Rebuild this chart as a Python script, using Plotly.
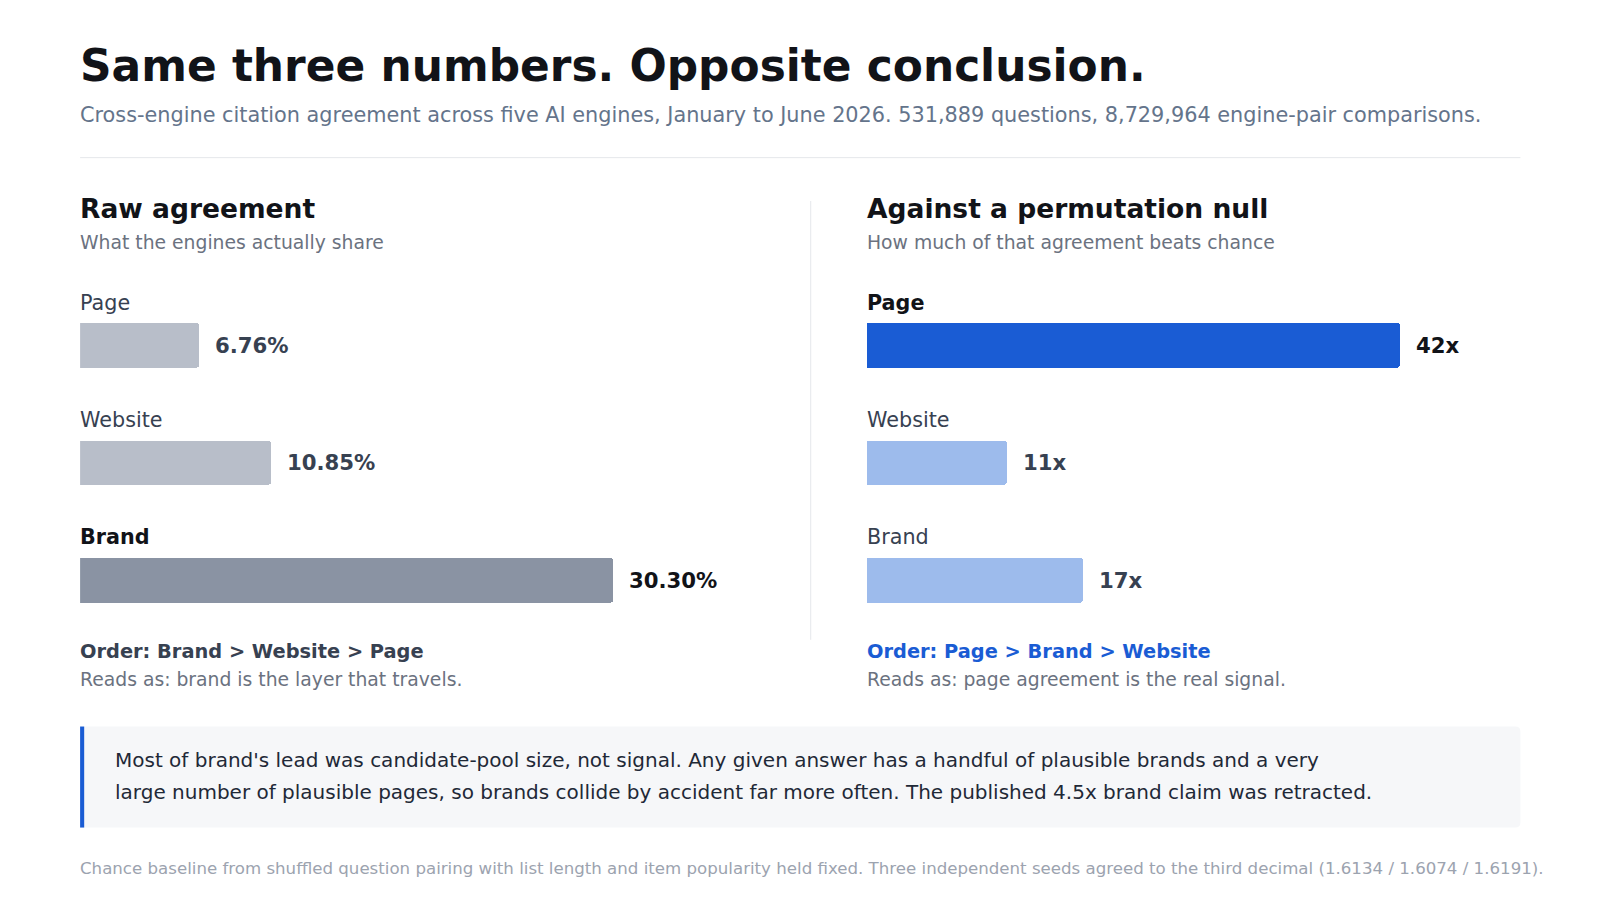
import plotly.graph_objects as go

# ---------------------------------------------------------------------------
# data
# ---------------------------------------------------------------------------
layers = ["Page", "Website", "Brand"]
raw_agreement = [6.76, 10.85, 30.30]          # % of engine pairs sharing
lift_over_null = [42, 11, 17]                 # x over permutation baseline
raw_labels = ["6.76%", "10.85%", "30.30%"]
lift_labels = ["42x", "11x", "17x"]

W, H = 1600, 907
S = 1600 / 1568          # layout was measured on a 1568px-wide preview
FONT = "DejaVu Sans"

INK = "#111318"
SLATE = "#374151"
MUTED = "#6b7280"
BLUE = "#1a5cd4"
LIGHT_BLUE = "#9dbbec"
GREY = "#b8bec9"
DARK_GREY = "#8a93a3"


def px(x):
    return x * S / W


def py(y):
    return 1 - y * S / H


fig = go.Figure()

raw_colors = [DARK_GREY if v == max(raw_agreement) else GREY for v in raw_agreement]
lift_colors = [BLUE if v == max(lift_over_null) else LIGHT_BLUE for v in lift_over_null]
ypos = list(range(len(layers)))

fig.add_trace(go.Bar(
    x=raw_agreement, y=ypos, orientation="h",
    marker=dict(color=raw_colors, cornerradius=3, line=dict(width=0)),
    width=0.383, xaxis="x", yaxis="y", hoverinfo="skip", showlegend=False,
))
fig.add_trace(go.Bar(
    x=lift_over_null, y=ypos, orientation="h",
    marker=dict(color=lift_colors, cornerradius=3, line=dict(width=0)),
    width=0.383, xaxis="x2", yaxis="y2", hoverinfo="skip", showlegend=False,
))

# track: longest bar fills 75% of each panel track
track = 696
left0, right0 = 78.5, 849.5
ax_common = dict(showgrid=False, zeroline=False, showticklabels=False,
                 showline=False, fixedrange=True)
fig.update_layout(
    xaxis=dict(domain=[px(left0), px(left0 + track)],
               range=[0, max(raw_agreement) / 0.75], **ax_common),
    xaxis2=dict(domain=[px(right0), px(right0 + track)],
                range=[0, max(lift_over_null) / 0.75], **ax_common),
    yaxis=dict(domain=[py(626), py(281)], range=[2.5, -0.5], anchor="x",
               **ax_common),
    yaxis2=dict(domain=[py(626), py(281)], range=[2.5, -0.5], anchor="x2",
                **ax_common),
)

ann = []


def text(x, y, s, size, color, bold=False, **kw):
    # annotations carry ~1.5px of padding; pull them back onto the grid line
    ann.append(dict(
        x=px(x - 1.5), y=py(y), xref="paper", yref="paper", text=s,
        showarrow=False, xanchor="left", yanchor="middle",
        font=dict(family=FONT, size=size * S, color=color,
                  weight="bold" if bold else "normal"),
        **kw,
    ))


# header
text(77.5, 64, "Same three numbers. Opposite conclusion.", 43, INK, bold=True)
text(78, 113, "Cross-engine citation agreement across five AI engines, January to "
     "June 2026. 531,889 questions, 8,729,964 engine-pair comparisons.",
     20.4, "#64748b")

# panel headings
text(78, 204, "Raw agreement", 26, INK, bold=True)
text(78, 238, "What the engines actually share", 18.4, MUTED)
text(849, 204, "Against a permutation null", 26, INK, bold=True)
text(849, 238, "How much of that agreement beats chance", 18.4, MUTED)

# bar labels and values
for i, name in enumerate(layers):
    for xa, ya, vals, labs in (("x", "y", raw_agreement, raw_labels),
                               ("x2", "y2", lift_over_null, lift_labels)):
        top = vals[i] == max(vals)
        ann.append(dict(
            x=0, y=i, xref=f"{xa} domain", yref=ya, text=name,
            yshift=42 * S, xshift=-2,
            showarrow=False, xanchor="left", yanchor="middle",
            font=dict(family=FONT, size=20.3 * S, color=INK if top else SLATE,
                      weight="bold" if top else "normal"),
        ))
        ann.append(dict(
            x=vals[i], y=i, xref=xa, yref=ya, text=labs[i], xshift=14 * S,
            showarrow=False, xanchor="left", yanchor="middle",
            font=dict(family=FONT, size=20.8 * S, color=INK if top else SLATE,
                      weight="bold"),
        ))

# order notes
text(78, 638, "Order: Brand > Website > Page", 19, SLATE, bold=True)
text(78, 666, "Reads as: brand is the layer that travels.", 18.4, MUTED)
text(849, 638, "Order: Page > Brand > Website", 19, BLUE, bold=True)
text(849, 666, "Reads as: page agreement is the real signal.", 18.4, MUTED)

# callout
text(112, 745, "Most of brand's lead was candidate-pool size, not signal. Any given "
     "answer has a handful of plausible brands and a very", 19.6, "#1f2937")
text(112, 776, "large number of plausible pages, so brands collide by accident far "
     "more often. The published 4.5x brand claim was retracted.", 19.6, "#1f2937")

# footnote
text(78, 851, "Chance baseline from shuffled question pairing with list length and "
     "item popularity held fixed. Three independent seeds agreed to the third "
     "decimal (1.6134 / 1.6074 / 1.6191).", 16.3, "#9ca3af")

# callout box with rounded right corners (radius in preview px)
bx0, bx1, by0, by1, r = 78.5, 1490, 712, 811, 5
box_path = (
    f"M {px(bx0)},{py(by0)} L {px(bx1 - r)},{py(by0)} "
    f"Q {px(bx1)},{py(by0)} {px(bx1)},{py(by0 + r)} "
    f"L {px(bx1)},{py(by1 - r)} "
    f"Q {px(bx1)},{py(by1)} {px(bx1 - r)},{py(by1)} "
    f"L {px(bx0)},{py(by1)} Z"
)

shapes = [
    # header rule
    dict(type="line", xref="paper", yref="paper", x0=px(78.5), x1=px(1490),
         y0=py(154.5), y1=py(154.5), line=dict(color="#e5e7eb", width=1)),
    # panel divider
    dict(type="line", xref="paper", yref="paper", x0=px(794.5), x1=px(794.5),
         y0=py(197), y1=py(627), line=dict(color="#e5e7eb", width=1)),
    # callout background
    dict(type="path", xref="paper", yref="paper", path=box_path,
         fillcolor="#f6f7f9", line=dict(width=0), layer="below"),
    # callout accent
    dict(type="rect", xref="paper", yref="paper", x0=px(bx0), x1=px(bx0 + 4),
         y0=py(by1), y1=py(by0), fillcolor=BLUE, line=dict(width=0),
         layer="below"),
]

fig.update_layout(
    width=W, height=H,
    margin=dict(l=0, r=0, t=0, b=0),
    paper_bgcolor="white", plot_bgcolor="white",
    font=dict(family=FONT),
    annotations=ann, shapes=shapes,
    hovermode=False, bargap=0,
)

fig.write_html(
    "out.html",
    config={"displayModeBar": False},
    post_script="document.body.style.margin='0';"
                "document.body.style.overflow='hidden';",
)
